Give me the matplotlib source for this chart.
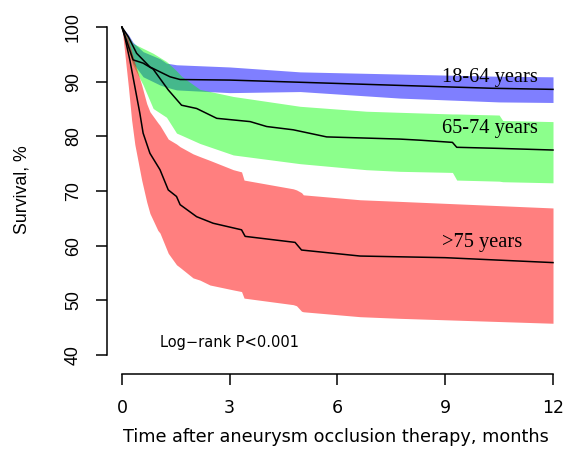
import matplotlib.pyplot as plt

# 18-64 years: survival line and confidence band
t_young = [0, 0.18, 0.41, 0.78, 1.34, 1.62, 3.0, 4.96, 7.37, 10.3, 12]
s_young = [100, 98.2, 95.2, 92.7, 90.9, 90.4, 90.3, 89.9, 89.4, 88.8, 88.6]
band_t_young = [0, 0.18, 0.31, 0.59, 1.06, 1.24, 1.52, 3.0, 4.96, 7.74, 10.5, 12]
up_young = [100, 98.6, 97.2, 95.5, 94.2, 93.4, 93.1, 92.7, 91.8, 91.4, 91.0, 90.9]
lo_young = [100, 96.0, 93.4, 90.9, 89.4, 89.0, 88.5, 88.0, 88.2, 87.0, 86.3, 86.2]

# 65-74 years
t_mid = [0, 0.31, 0.59, 0.87, 1.29, 1.66, 2.08, 2.64, 3.57, 4.03, 4.77, 5.7, 7.74, 8.3, 9.2, 9.32, 10.5, 12]
s_mid = [100, 94.0, 93.4, 92.3, 88.5, 85.7, 85.1, 83.3, 82.7, 81.8, 81.2, 79.9, 79.5, 79.3, 78.9, 78.0, 77.8, 77.5]
band_t_mid = [0, 0.13, 0.31, 0.59, 0.87, 1.24, 1.52, 1.66, 2.17, 3.1, 4.96, 6.8, 7.74, 9.2, 9.32, 10.5, 10.6, 12]
up_mid = [100, 98.8, 97.0, 96.1, 95.2, 93.7, 92.0, 91.0, 88.6, 87.3, 85.5, 84.6, 84.4, 84.1, 84.1, 83.9, 82.9, 82.7]
lo_mid = [100, 96.5, 93.0, 89.4, 85.1, 83.5, 80.6, 80.2, 78.7, 76.6, 75.0, 73.9, 73.6, 73.4, 72.0, 71.8, 71.7, 71.5]

# >75 years
t_old = [0, 0.08, 0.22, 0.36, 0.5, 0.59, 0.78, 1.06, 1.29, 1.52, 1.62, 2.08, 2.54, 3.33, 3.43, 4.82, 5.0, 6.63, 9.0, 12]
s_old = [100, 98.2, 94.0, 89.1, 84.2, 80.6, 76.9, 73.9, 70.2, 69.0, 67.5, 65.3, 64.1, 62.9, 61.7, 60.6, 59.2, 58.1, 57.8, 56.9]
band_t_old = [0, 0.08, 0.18, 0.27, 0.36, 0.55, 0.69, 0.78, 1.0, 1.06, 1.29, 1.52, 1.62, 1.98, 2.17, 2.45,
              3.1, 3.33, 3.4, 4.77, 4.86, 5.0, 5.05, 6.63, 7.74, 12]
up_old = [100, 99.0, 97.6, 95.5, 93.4, 89.4, 86.0, 84.5, 82.5, 82.0, 79.5, 78.6, 78.1, 76.8, 76.3, 75.6,
          73.9, 73.5, 72.0, 70.4, 70.2, 69.7, 69.3, 68.4, 68.1, 66.9]
lo_old = [100, 95.2, 89.1, 83.0, 78.5, 72.0, 68.0, 65.9, 62.8, 62.3, 58.6, 56.5, 56.0, 54.1, 53.7, 52.8,
          51.9, 51.6, 50.4, 49.2, 49.0, 48.0, 47.9, 47.0, 46.7, 45.8]

labels = ["18-64 years", "65-74 years", ">75 years"]
label_y = [90.7, 81.4, 60.5]

x_ticks = [0, 3, 6, 9, 12]
y_ticks = [40, 50, 60, 70, 80, 90, 100]

# the source picture is a bit stretched sideways: wider face for horizontal text
HFONT = ["DejaVu Sans"]
VFONT = ["Liberation Sans", "DejaVu Sans"]

fig = plt.figure(figsize=(5.67, 4.5), dpi=100)
ax = fig.add_axes([0.196, 0.193, 0.792, 0.759])

# bands go first, each line right after its band (the next band covers it a little)
ax.fill_between(band_t_young, lo_young, up_young, color=(0, 0, 1), alpha=0.5, linewidth=0)
ax.plot(t_young, s_young, color="black", linewidth=1.1)
ax.fill_between(band_t_mid, lo_mid, up_mid, color=(0, 1, 0), alpha=0.45, linewidth=0)
ax.plot(t_mid, s_mid, color="black", linewidth=1.1)
ax.fill_between(band_t_old, lo_old, up_old, color=(1, 0, 0), alpha=0.5, linewidth=0)
ax.plot(t_old, s_old, color="black", linewidth=1.1)

for lab, y in zip(labels, label_y):
    ax.text(8.92, y, lab, family="Liberation Serif", fontsize=14.7, ha="left", va="center")

ax.text(1.06, 42.2, "Log\u2212rank P<0.001", family=HFONT, fontsize=10.5, ha="left", va="center")

ax.set_xlim(-0.3, 12.2)
ax.set_ylim(38.5, 101)
ax.set_xticks(x_ticks)
ax.set_yticks(y_ticks)

# R-style axes: detached, only as long as the ticks
for side in ["top", "right"]:
    ax.spines[side].set_visible(False)
ax.spines["left"].set_bounds(40, 100)
ax.spines["bottom"].set_bounds(0, 12)
ax.spines["left"].set_position(("outward", 3))
ax.spines["bottom"].set_position(("outward", 8))
ax.spines["left"].set_linewidth(1.1)
ax.spines["bottom"].set_linewidth(1.1)
ax.tick_params(axis="both", length=8, width=1.1, pad=10)
for lab in ax.get_xticklabels():
    lab.set_family(HFONT)
    lab.set_fontsize(12.5)
for lab in ax.get_yticklabels():
    lab.set_family(VFONT)
    lab.set_fontsize(12.8)
    lab.set_rotation(90)
    lab.set_va("center")

ax.set_xlabel("Time after aneurysm occlusion therapy, months", family=HFONT, fontsize=12.7)
ax.set_ylabel("Survival, %", family=VFONT, fontsize=12.8)
ax.xaxis.set_label_coords(0.5, -0.19)
ax.yaxis.set_label_coords(-0.18, 0.507)

fig.savefig("out.png", dpi=100)
